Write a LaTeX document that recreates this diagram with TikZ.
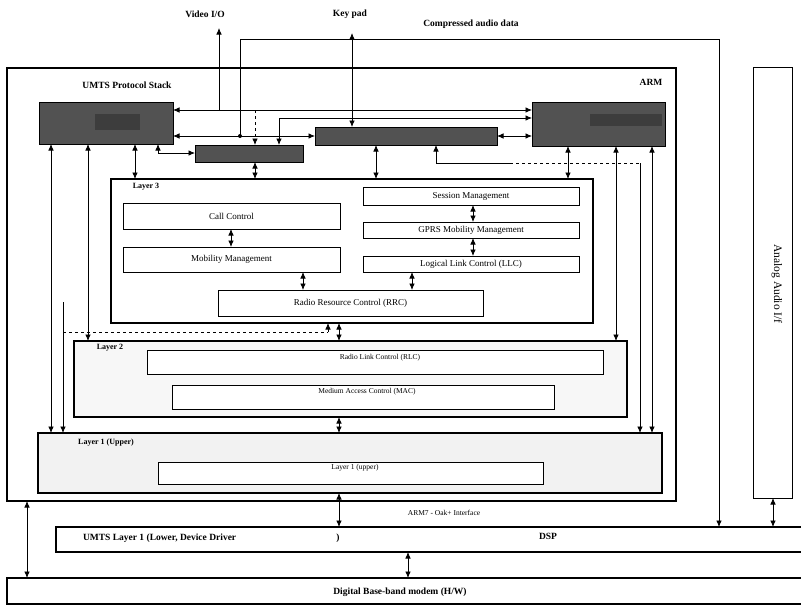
\documentclass[tikz,border=0pt]{standalone}
\usepackage{fontspec}
\setmainfont{Liberation Serif}
\usetikzlibrary{arrows.meta}
\newcommand{\mkbox}[6]{\node[#1, anchor=north west, minimum width={(#5-#3)*1pt}, minimum height={(#6-#4)*1pt}] (#2) at (#3,#4) {};}
\begin{document}
\begin{tikzpicture}[x=1pt,y=-1pt,
  >={Latex[length=6.5pt,width=5.5pt]},
  every node/.style={inner sep=0pt, outer sep=0pt},
  heavybox/.style={draw, line width=1.7pt, rectangle},
  thinbox/.style={draw, line width=0.9pt, rectangle, fill=white},
  graybox/.style={draw, line width=0.9pt, rectangle, fill=black!68},
  conn/.style={line width=0.8pt},
  blbl/.style={font=\fontsize{9.5}{11}\selectfont\bfseries},
  rlbl/.style={font=\fontsize{9}{11}\selectfont},
  slbl/.style={font=\fontsize{7.5}{9}\selectfont}
]
\useasboundingbox (0,0) rectangle (801,606);
\clip (0,0) rectangle (801,606);
\fill[white] (0,0) rectangle (801,606);

% top labels
\node[blbl] (video) at (205,14) {Video I/O};
\node[blbl] (keypad) at (350,14) {Key pad};
\node[blbl] (cad) at (471,24) {Compressed audio data};

% frames
\mkbox{heavybox}{arm}{7}{68}{676}{501}
\node[blbl] (armlbl) at (651,82) {ARM};
\node[blbl] (ups) at (127,85) {UMTS Protocol Stack};
\mkbox{thinbox}{analog}{753}{67}{792}{498}
\node[font=\fontsize{11.5}{13}\selectfont, rotate=-90] (analoglbl) at (777,284) {Analog Audio I/f};

% gray boxes
\mkbox{graybox}{box1}{39}{102}{173}{144}
\mkbox{graybox}{box2}{195}{145}{303}{162}
\mkbox{graybox}{box3}{315}{127}{497}{145}
\mkbox{graybox}{box4}{532}{102}{665}{146}
\fill[black!76] (95,114) rectangle (140,130);
\fill[black!76] (590,114) rectangle (662,126);

% Layer 3
\mkbox{heavybox}{L3}{111}{179}{593}{323}
\node[font=\fontsize{8}{9}\selectfont\bfseries] (L3lbl) at (146,187) {Layer 3};
\mkbox{thinbox}{cc}{123}{203}{340}{229}
\node[rlbl] at (cc.center) {Call Control};
\mkbox{thinbox}{mm}{123}{247}{340}{272}
\node[rlbl] at (mm.center) {Mobility Management};
\mkbox{thinbox}{rrc}{218}{290}{483}{316}
\node[rlbl] at (rrc.center) {Radio Resource Control (RRC)};
\mkbox{thinbox}{sm}{363}{187}{579}{205}
\node[rlbl] at (sm.center) {Session Management};
\mkbox{thinbox}{gmm}{363}{222}{579}{238}
\node[rlbl] at (gmm.center) {GPRS Mobility Management};
\mkbox{thinbox}{llc}{363}{256}{579}{272}
\node[rlbl] at (llc.center) {Logical Link Control (LLC)};

% Layer 2
\mkbox{heavybox, fill=black!3}{L2}{74}{341}{627}{417}
\node[font=\fontsize{8}{9}\selectfont\bfseries] (L2lbl) at (110,348) {Layer 2};
\mkbox{thinbox}{rlc}{147}{350}{603}{374}
\node[slbl] (rlclbl) at (380,358) {Radio Link Control (RLC)};
\mkbox{thinbox}{mac}{172}{385}{554}{409}
\node[slbl] (maclbl) at (367,392) {Medium Access Control (MAC)};

% Layer 1
\mkbox{heavybox, fill=black!5}{L1}{38}{433}{662}{493}
\node[font=\fontsize{8}{9}\selectfont\bfseries] (L1lbl) at (106,443) {Layer 1 (Upper)};
\mkbox{thinbox}{l1u}{158}{462}{543}{484}
\node[slbl] (l1ulbl) at (355,468) {Layer 1 (upper)};

% DSP and digital
\mkbox{heavybox}{dsp}{56}{527}{830}{552}
\node[blbl, anchor=west] (umtsl1) at (83,538) {UMTS Layer 1 (Lower, Device Driver};
\node[blbl] (paren) at (338,538) {)};
\node[blbl] (dsplbl) at (548,536) {DSP};
\mkbox{heavybox}{dig}{7}{578}{830}{604}
\node[blbl] (diglbl) at (400,592) {Digital Base-band modem (H/W)};
\node[slbl] (ifc) at (444,513) {ARM7 - Oak+ Interface};

% connectors between top boxes
\draw[conn,<->] (box1.east |- 0,110) -- (box4.west |- 0,110);
\coordinate (vtop) at (219,28);
\draw[conn,->] (219,110) -- (vtop);
\draw[conn,<->] (box4.west |- 0,118) -- (279,118) -- (box2.north -| 279,0);
\draw[conn,dashed,->] (255,110) -- (box2.north -| 255,0);
\coordinate (ktop) at (352,33);
\draw[conn,<->] (ktop) -- (box3.north -| 352,0);
\draw[conn,->] (240,136) -- (240,39) -- (719,39) -- (dsp.north -| 719,0);
\fill (240,136) circle (2pt);
\draw[conn,<->] (box1.east |- 0,136) -- (box3.west |- 0,136);
\draw[conn,<->] (box3.east |- 0,136) -- (box4.west |- 0,136);
\draw[conn,<->] (box1.south -| 158,0) -- (158,153) -- (box2.west |- 0,153);

% box1 downwards
\draw[conn,<->] (box1.south -| 51,0) -- (L1.north -| 51,0);
\draw[conn,<->] (box1.south -| 88,0) -- (L2.north -| 88,0);
\draw[conn,<->] (box1.south -| 135,0) -- (L3.north -| 135,0);
\draw[conn,<->] (box2.south -| 255,0) -- (L3.north -| 255,0);
\draw[conn,<->] (box3.south -| 376,0) -- (L3.north -| 376,0);
\draw[conn,<-] (box3.south -| 436,0) -- (436,163) -- (510,163);
\draw[conn,dashed] (510,163) -- (640,163);
\draw[conn,->] (640,163) -- (L1.north -| 640,0);
\draw[conn,<->] (box4.south -| 568,0) -- (L3.north -| 568,0);
\draw[conn,<->] (box4.south -| 616,0) -- (L2.north -| 616,0);
\draw[conn,<->] (box4.south -| 652,0) -- (L1.north -| 652,0);

% inside layer 3
\draw[conn,<->] (cc.south -| 231,0) -- (mm.north -| 231,0);
\draw[conn,<->] (mm.south -| 303,0) -- (rrc.north -| 303,0);
\draw[conn,<->] (sm.south -| 473,0) -- (gmm.north -| 473,0);
\draw[conn,<->] (gmm.south -| 473,0) -- (llc.north -| 473,0);
\draw[conn,<->] (llc.south -| 412,0) -- (rrc.north -| 412,0);

% between layers
\draw[conn,<->] (L3.south -| 339,0) -- (L2.north -| 339,0);
\coordinate (c63) at (63,302);
\draw[conn,->] (c63) -- (L1.north -| 63,0);
\draw[conn,dashed] (63,332) -- (328,332);
\draw[conn,->] (328,332) -- (L3.south -| 328,0);
\draw[conn,<->] (L2.south -| 339,0) -- (L1.north -| 339,0);
\draw[conn,<->] (L1.south -| 339,0) -- (dsp.north -| 339,0);
\draw[conn,<->] (dsp.south -| 408,0) -- (dig.north -| 408,0);
\draw[conn,<->] (arm.south -| 27,0) -- (dig.north -| 27,0);
\draw[conn,<->] (analog.south -| 773,0) -- (dsp.north -| 773,0);
\end{tikzpicture}
\end{document}
